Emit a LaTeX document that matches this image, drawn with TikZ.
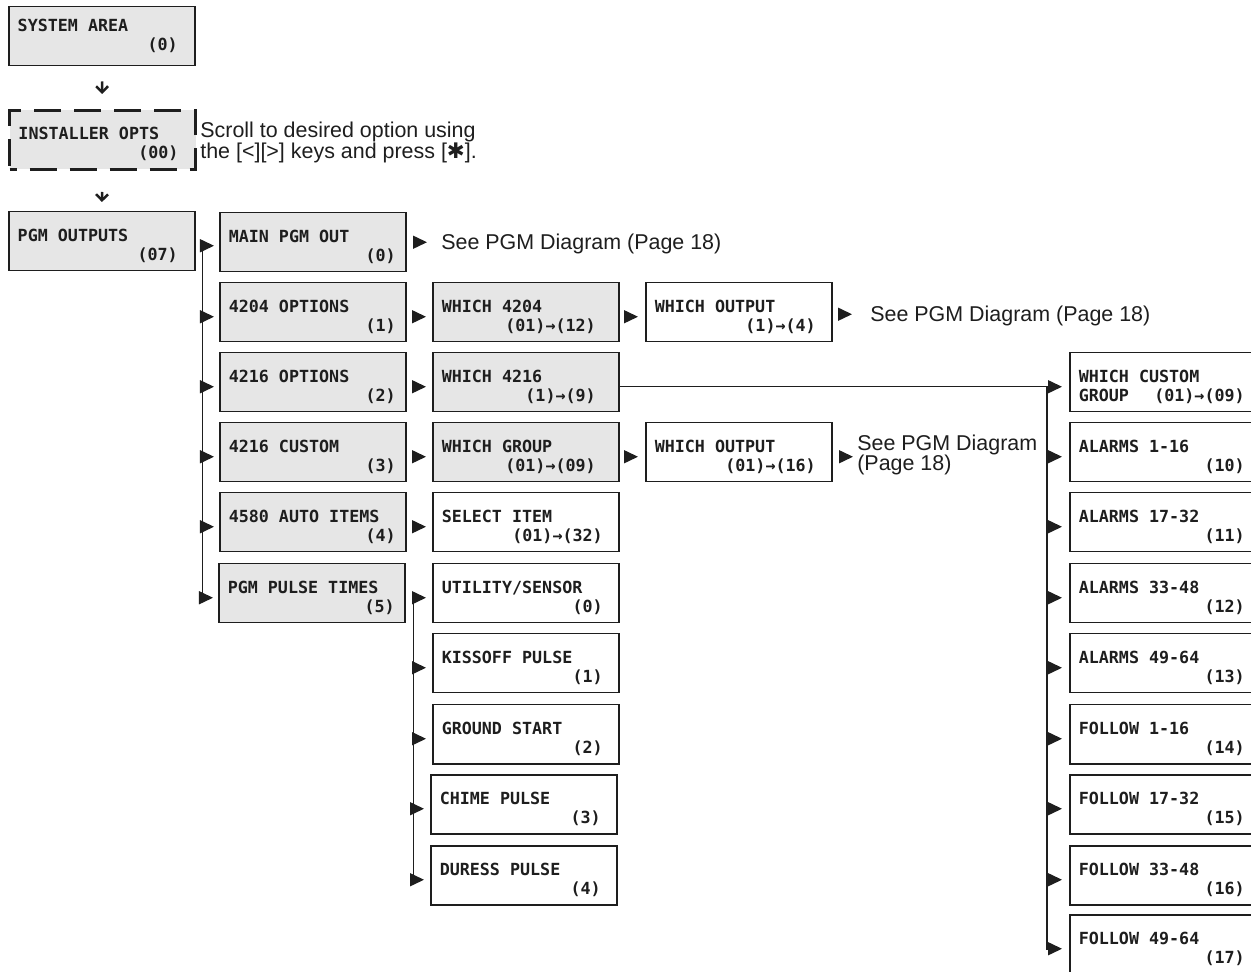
\documentclass[tikz,border=0pt]{standalone}
\usepackage{fontspec}
\setmainfont{Liberation Sans}
\newfontfamily\lcdfam{DejaVu Sans Mono}
\newfontfamily\symfam{DejaVu Sans}
\usetikzlibrary{arrows.meta,calc}
\newlength\px
\setlength\px{0.02cm}
\definecolor{boxgray}{RGB}{230,230,230}
\definecolor{ink}{RGB}{30,30,30}
\newcommand\lcdfont{\lcdfam\bfseries\fontsize{9.5}{10.8}\selectfont}
\newcommand\fixsp{\spaceskip=\fontcharwd\font`M\relax\xspaceskip=\spaceskip}
\newcommand\lcd[3][0]{\fixsp\rule{0pt}{21\px}#2\\\makebox[\linewidth][r]{#3\hspace*{#1\px}}}
\newcommand\lcdsys[3][0]{\fixsp\rule{0pt}{12\px}#2\\\makebox[\linewidth][r]{#3\hspace*{#1\px}}}
\begin{document}
\begin{tikzpicture}[x=0.02cm,y=-0.02cm,
  lcdbox/.style={draw=ink, line width=1.5\px, rectangle, anchor=north west,
    minimum width=186\px, minimum height=59\px, inner xsep=9\px, inner ysep=0pt,
    text width=168\px, align=left, text=ink, font=\lcdfont},
  gbox/.style={lcdbox, fill=boxgray},
  wbox/.style={lcdbox, fill=white},
  dbox/.style={gbox, dash pattern=on 27\px off 13\px, dash phase=20\px, line width=3\px},
  prose/.style={font=\fontsize{12.2}{12}\selectfont, text=ink, inner sep=0pt, align=left},
  tri/.style={draw=ink, line width=1.5\px, -{Triangle[length=7.97pt,width=7.4pt]}},
  down/.style={draw=ink, line width=2.5\px, -{Straight Barb[length=3.4pt,width=6.8pt]}}
]
\useasboundingbox (0,0) rectangle (1251,972);
\clip (0,0) rectangle (1251,972);
\fill[white] (0,0) rectangle (1251,972);

% column 1
\node[gbox] (sys) at (8,6) {\lcdsys[8]{SYSTEM AREA}{(0)}};
\node[dbox] (inst) at (8,109) {\lcd[8]{INSTALLER OPTS}{(00)}};
\node[gbox] (pgm) at (8,211) {\lcd[8]{PGM OUTPUTS}{(07)}};
\node[prose, anchor=north west] (scroll) at (200,122)
  {Scroll to desired option using\\the [<][>] keys and press [{\symfam ✱}].};

% column 2
\node[gbox] (main) at (219,212) {\lcd[1]{MAIN PGM OUT}{(0)}};
\node[gbox] (o4204) at (219,282) {\lcd[1]{4204 OPTIONS}{(1)}};
\node[gbox] (o4216) at (219,352) {\lcd[1]{4216 OPTIONS}{(2)}};
\node[gbox] (c4216) at (219,422) {\lcd[1]{4216 CUSTOM}{(3)}};
\node[gbox] (a4580) at (219,492) {\lcd[1]{4580 AUTO ITEMS}{(4)}};
\node[gbox] (pulse) at (218,563) {\lcd[1]{PGM PULSE TIMES}{(5)}};

% column 3
\node[gbox] (w4204) at (432,282) {\lcd[14]{WHICH 4204}{(01)→(12)}};
\node[gbox] (w4216) at (432,352) {\lcd[14]{WHICH 4216}{(1)→(9)}};
\node[gbox] (wgroup) at (432,422) {\lcd[14]{WHICH GROUP}{(01)→(09)}};
\node[wbox] (select) at (432,492) {\lcd[7]{SELECT ITEM}{(01)→(32)}};
\node[wbox] (util) at (432,563) {\lcd[7]{UTILITY/SENSOR}{(0)}};
\node[wbox] (kiss) at (432,633) {\lcd[7]{KISSOFF PULSE}{(1)}};
\node[wbox] (ground) at (432,704) {\lcd[7]{GROUND START}{(2)}};
\node[wbox] (chime) at (430,774) {\lcd[7]{CHIME PULSE}{(3)}};
\node[wbox] (duress) at (430,845) {\lcd[7]{DURESS PULSE}{(4)}};

% column 4
\node[wbox] (wout1) at (645,282) {\lcd[7]{WHICH OUTPUT}{(1)→(4)}};
\node[wbox] (wout2) at (645,422) {\lcd[7]{WHICH OUTPUT}{(01)→(16)}};

% notes
\node[prose, anchor=base west] (see1) at (441,250) {See PGM Diagram (Page 18)};
\node[prose, anchor=base west] (see2) at (870,322) {See PGM Diagram (Page 18)};
\node[prose, anchor=north west, font=\fontsize{12.2}{11.4}\selectfont] (see3) at (857,435)
  {See PGM Diagram\\(Page 18)};

% column 5
\node[wbox] (wcust) at (1069,352) {\lcd[2]{WHICH CUSTOM}{GROUP\hfill(01)→(09)}};
\node[wbox] (al1) at (1069,422) {\lcd[2]{ALARMS 1-16}{(10)}};
\node[wbox] (al2) at (1069,492) {\lcd[2]{ALARMS 17-32}{(11)}};
\node[wbox] (al3) at (1069,563) {\lcd[2]{ALARMS 33-48}{(12)}};
\node[wbox] (al4) at (1069,633) {\lcd[2]{ALARMS 49-64}{(13)}};
\node[wbox] (fo1) at (1069,704) {\lcd[2]{FOLLOW 1-16}{(14)}};
\node[wbox] (fo2) at (1069,774) {\lcd[2]{FOLLOW 17-32}{(15)}};
\node[wbox] (fo3) at (1069,845) {\lcd[2]{FOLLOW 33-48}{(16)}};
\node[wbox] (fo4) at (1069,914) {\lcd[2]{FOLLOW 49-64}{(17)}};

% down arrows
\draw[down, shorten <=15\px, shorten >=15\px] (sys.south) -- (inst.north);
\draw[down, shorten <=21\px, shorten >=9\px] (inst.south) -- (pgm.north);

% trunk 1
\coordinate (p0) at ([yshift=-4.5\px]pgm.east);
\coordinate (t1) at ([xshift=7\px,yshift=-4.5\px]pgm.east);
\draw[tri, shorten <=7\px, shorten >=5\px] (p0) -- (p0 -| main.west);
\foreach \n in {o4204,o4216,c4216,a4580,pulse}
  \draw[tri, shorten >=5\px] (t1) |- ([yshift=-4.5\px]\n.west);

% column 2 -> 3
\foreach \a/\b in {o4204/w4204, o4216/w4216, c4216/wgroup, a4580/select}
  \draw[tri, shorten <=7\px, shorten >=6\px] ([yshift=-4.5\px]\a.east) -- ([yshift=-4.5\px]\b.west);

% column 3 -> 4
\draw[tri, shorten <=6\px, shorten >=7\px] ([yshift=-4.5\px]w4204.east) -- ([yshift=-4.5\px]wout1.west);
\draw[tri, shorten <=6\px, shorten >=7\px] ([yshift=-4.5\px]wgroup.east) -- ([yshift=-4.5\px]wout2.west);

% to notes
\coordinate (m0) at (main.east);
\draw[tri, shorten <=8\px, shorten >=14\px] (m0) -- (m0 -| see1.west);
\coordinate (o1) at ([yshift=-2\px]wout1.east);
\draw[tri, shorten <=7\px, shorten >=18\px] (o1) -- (o1 -| see2.west);
\coordinate (o2) at ([yshift=-4.5\px]wout2.east);
\draw[tri, shorten <=8\px, shorten >=4\px] (o2) -- (o2 -| see3.west);

% trunk 2
\coordinate (t2) at ([xshift=8\px,yshift=-4.5\px]pulse.east);
\foreach \n in {util,kiss,ground,chime,duress}
  \draw[tri, shorten >=6\px] (t2) |- ([yshift=-4.5\px]\n.west);

% trunk 3
\coordinate (h3) at ([yshift=-4.5\px]w4216.east);
\coordinate (v3) at ([xshift=-22\px]wcust.west);
\coordinate (t3) at (h3 -| v3);
\draw[draw=ink, line width=1.5\px] (h3) -- (t3);
\foreach \n in {wcust,al1,al2,al3,al4,fo1,fo2,fo3,fo4}
  \draw[tri, shorten >=7\px] (t3) |- ([yshift=-4.5\px]\n.west);
\end{tikzpicture}
\end{document}
